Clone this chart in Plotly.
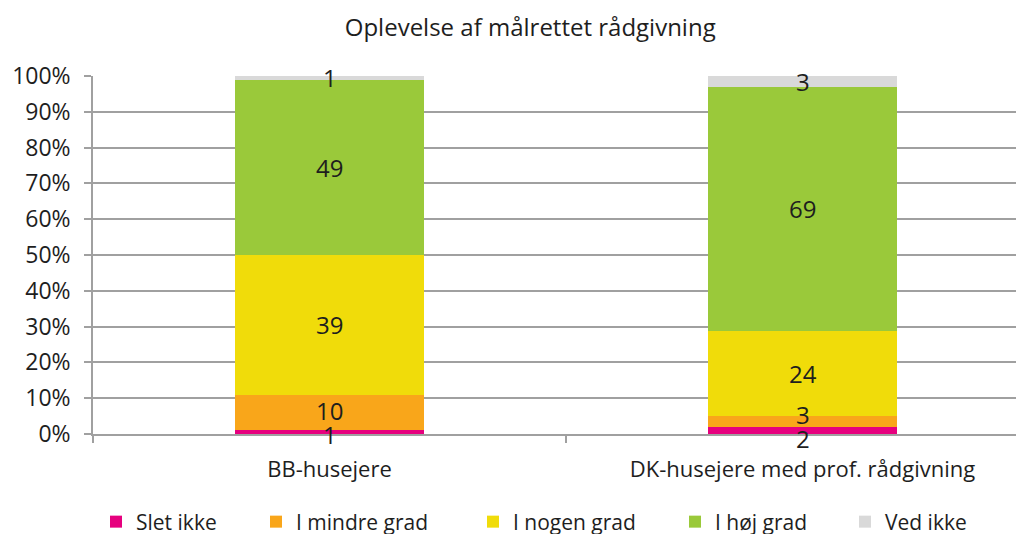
"""Oplevelse af målrettet rådgivning - 100% stacked bar."""
import numpy as np
import plotly.graph_objects as go

categories = ["BB-husejere", "DK-husejere med prof. rådgivning"]
series_names = ["Slet ikke", "I mindre grad", "I nogen grad", "I høj grad", "Ved ikke"]
slet_ikke = [1, 2]
i_mindre_grad = [10, 3]
i_nogen_grad = [39, 24]
i_hoej_grad = [49, 69]
ved_ikke = [1, 3]
y_ticks = [0, 10, 20, 30, 40, 50, 60, 70, 80, 90, 100]

COLORS = ["#E6007E", "#F9A61A", "#F0DC0A", "#9AC93A", "#D9D9D9"]
FONT = "Open Sans"
TEXT = "#1E1E1E"
GRID = "#A0A0A0"

# the page body has an 8px margin, so the figure sits 8px right/down
PLOT_L, PLOT_R, PLOT_T, PLOT_B = 85, 1014, 68, 426
PLOT_H = PLOT_B - PLOT_T
CAT_W = 473  # px per category; the second category runs past the right edge
LEGEND_X = [102, 262, 479, 681, 851]  # legend anchor per entry (px)

values = np.array([slet_ikke, i_mindre_grad, i_nogen_grad, i_hoej_grad, ved_ikke], dtype=float)
shares = values / values.sum(axis=0) * 100
tops = shares.cumsum(axis=0)
mids = tops - shares / 2

# spread neighbouring labels that would collide (like Excel does)
MIN_GAP = 24
shifts = np.zeros_like(mids)
for j in range(values.shape[1]):
    for i in range(values.shape[0] - 1):
        gap = (mids[i + 1, j] - mids[i, j]) * PLOT_H / 100
        if gap < MIN_GAP:
            push = (MIN_GAP - gap) / 2
            shifts[i, j] -= push
            shifts[i + 1, j] += push

fig = go.Figure()
for k, (name, color, row) in enumerate(zip(series_names, COLORS, values)):
    fig.add_trace(
        go.Bar(
            x=categories, y=row, name=name, marker=dict(color=color, line=dict(width=0)),
            width=0.4, textposition="none", hoverinfo="skip",
            legend="legend" if k == 0 else f"legend{k + 1}",
        )
    )

for i in range(values.shape[0]):
    for j, cat in enumerate(categories):
        fig.add_annotation(
            x=cat, y=mids[i, j], yshift=shifts[i, j], text=str(int(values[i, j])),
            showarrow=False, font=dict(family=FONT, size=24, color=TEXT),
        )

legends = {}
for k, px in enumerate(LEGEND_X):
    key = "legend" if k == 0 else f"legend{k + 1}"
    legends[key] = dict(
        x=(px - 14 - PLOT_L) / (PLOT_R - PLOT_L), xanchor="left",
        y=(PLOT_B - 514) / PLOT_H, yanchor="middle",
        font=dict(family=FONT, size=21, color=TEXT), itemwidth=30,
        bgcolor="rgba(0,0,0,0)",
    )

fig.update_layout(
    barmode="stack",
    barnorm="percent",
    width=1024,
    height=534,
    paper_bgcolor="white",
    plot_bgcolor="white",
    margin=dict(l=PLOT_L, r=1024 - PLOT_R, t=PLOT_T, b=534 - PLOT_B, autoexpand=False),
    font=dict(family=FONT, size=22, color=TEXT),
    title=dict(
        text="Oplevelse af målrettet rådgivning", x=0.51, xanchor="center",
        y=0.964, yanchor="middle", font=dict(family=FONT, size=24, color=TEXT),
    ),
    xaxis=dict(
        range=[-0.5, -0.5 + (PLOT_R - PLOT_L) / CAT_W],
        showgrid=False, showline=True, linecolor=GRID, linewidth=1.5,
        ticks="outside", tickson="boundaries", ticklen=7, tickcolor=GRID,
        tickwidth=1.5, ticklabelstandoff=15, tickfont=dict(size=22), automargin=False,
    ),
    yaxis=dict(
        range=[0, 100], tickvals=y_ticks, ticktext=[f"{v}%" for v in y_ticks],
        showgrid=True, gridcolor=GRID, gridwidth=1.5,
        showline=True, linecolor=GRID, linewidth=1.5,
        ticks="outside", ticklen=7, tickcolor=GRID, tickwidth=1.5,
        ticklabelstandoff=9, tickfont=dict(size=23), zeroline=False, automargin=False,
    ),
    showlegend=True,
    **legends,
)

fig.write_html("out.html")
